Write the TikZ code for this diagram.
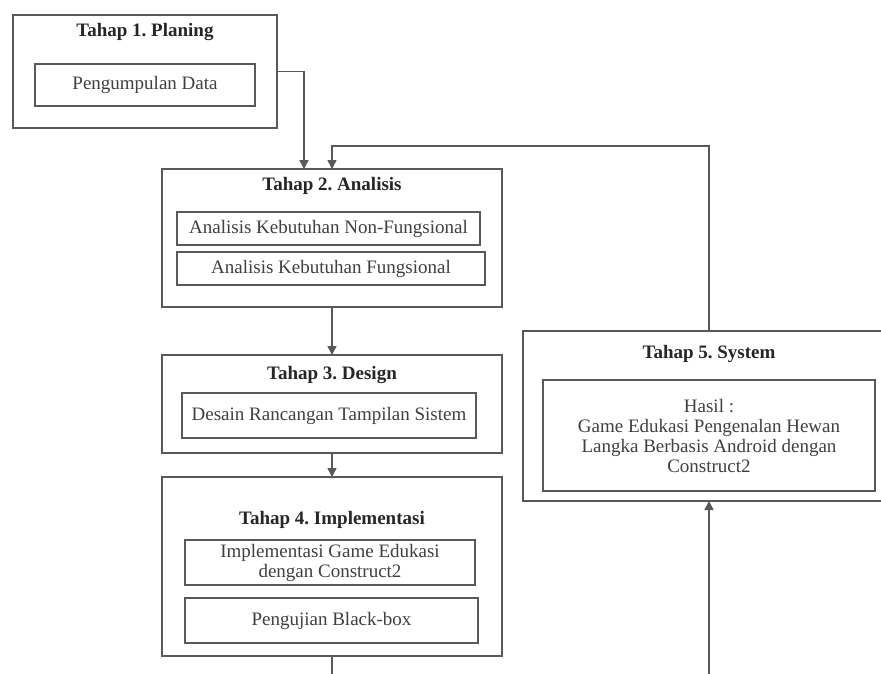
\documentclass[tikz,border=0pt]{standalone}
\usepackage{fontspec}
\setmainfont{Liberation Serif}
\usepackage{tikz}
\usetikzlibrary{arrows.meta,positioning,calc}
\frenchspacing

\begin{document}
\begin{tikzpicture}[x=1pt,y=-1pt,>={Triangle[length=9pt,width=9pt]},
  frame/.style={draw=black!65,line width=1.6pt,fill=white,inner sep=0pt,outer sep=0pt},
  sub/.style={draw=black!65,line width=1.6pt,inner sep=0pt,align=center,font=\fontsize{19}{20}\selectfont,text=black!75},
  ttl/.style={font=\fontsize{19}{20}\selectfont\bfseries,text=black!85},
  link/.style={draw=black!65,line width=1.6pt}]
\useasboundingbox (0,0) rectangle (881,673);
\clip (0,0) rectangle (881,673);
\fill[white] (0,0) rectangle (881,673);
% stage frames
\node[frame,minimum width=264pt,minimum height=113pt] (P1) at (145,71.5) {};
\node[frame,minimum width=340pt,minimum height=138pt] (P2) at (332,238) {};
\node[frame,minimum width=340pt,minimum height=98pt,below=48pt of P2] (P3) {};
\node[frame,minimum width=340pt,minimum height=179pt,below=24pt of P3] (P4) {};
\node[frame,minimum width=372pt,minimum height=170pt] (P5) at (709,416) {};
% titles
\node[ttl] (t1) at ($(P1.north)+(0,17)$) {Tahap 1. Planing};
\node[ttl] (t2) at ($(P2.north)+(0,17)$) {Tahap 2. Analisis};
\node[ttl] (t3) at ($(P3.north)+(0,20)$) {Tahap 3. Design};
\node[ttl] (t4) at ($(P4.north)+(0,43)$) {Tahap 4. Implementasi};
\node[ttl] (t5) at ($(P5.north)+(0,23)$) {Tahap 5. System};
% contents
\node[sub,minimum width=220pt,minimum height=42pt] (s11) at (145,85) {Pengumpulan Data};
\node[sub,minimum width=303pt,minimum height=33pt] (s21) at (328.5,228.5) {Analisis Kebutuhan Non-Fungsional};
\node[sub,minimum width=308pt,minimum height=33pt] (s22) at (331,268.5) {Analisis Kebutuhan Fungsional};
\node[sub,minimum width=294pt,minimum height=45pt] (s31) at (329,415.5) {Desain Rancangan Tampilan Sistem};
\node[sub,minimum width=290pt,minimum height=45pt] (s41) at (330,562.5) {Implementasi Game Edukasi\\dengan Construct2};
\node[sub,minimum width=293pt,minimum height=45pt] (s42) at (331.5,620.5) {Pengujian Black-box};
\node[sub,minimum width=332pt,minimum height=111pt] (s51) at (709,435.5) {Hasil :\\Game Edukasi Pengenalan Hewan\\Langka Berbasis Android dengan\\Construct2};
% connectors
\coordinate (out4) at (332,680);
\coordinate (in5) at (709,680);
\draw[link,->] (P1.east) -| ([xshift=-28pt]P2.north);
\draw[link,->] (P5.north) |- ([yshift=23pt]P2.north) -- (P2.north);
\draw[link,->] (P2) -- (P3);
\draw[link,->] (P3) -- (P4);
\draw[link] (P4) -- (out4);
\draw[link,->] (in5) -- (P5);
\end{tikzpicture}
\end{document}
